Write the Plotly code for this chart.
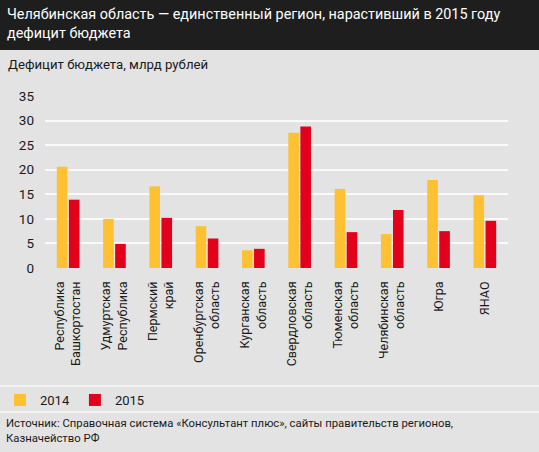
import plotly.graph_objects as go

categories = [
    "Республика<br>Башкортостан",
    "Удмуртская<br>Республика",
    "Пермский<br>край",
    "Оренбургская<br>область",
    "Курганская<br>область",
    "Свердловская<br>область",
    "Тюменская<br>область",
    "Челябинская<br>область",
    "Югра",
    "ЯНАО",
]
values_2014 = [20.6, 10.0, 16.6, 8.5, 3.6, 27.5, 16.1, 6.9, 17.9, 14.8]
values_2015 = [13.9, 4.9, 10.2, 6.0, 3.9, 28.8, 7.3, 11.8, 7.5, 9.6]
series_names = ["2014", "2015"]
y_ticks = [0, 5, 10, 15, 20, 25, 30, 35]

W, H = 539, 452
L, R = 45, 508      # plot area x in pixels
T, B = 96, 268      # plot area y in pixels

FONT = "Roboto, sans-serif"
ORANGE = "#FDC131"
RED = "#E2001A"
BG = "#E3E3E3"
TXT = "#1A1A1A"


def px(x):
    return (x - L) / (R - L)


def py(y):
    return (B - y) / (B - T)


fig = go.Figure()
fig.add_trace(go.Bar(x=categories, y=values_2014, name=series_names[0],
                     marker=dict(color=ORANGE, line=dict(width=0))))
fig.add_trace(go.Bar(x=categories, y=values_2015, name=series_names[1],
                     marker=dict(color=RED, line=dict(width=0))))

shapes = [
    dict(type="rect", xref="paper", yref="paper", x0=px(0), x1=px(W),
         y0=py(0), y1=py(50), fillcolor="#1E1E1E", line=dict(width=0), layer="below"),
    dict(type="line", xref="paper", yref="paper", x0=px(0), x1=px(W),
         y0=py(386), y1=py(386), line=dict(color="#F7F7F7", width=1.5)),
    dict(type="line", xref="paper", yref="paper", x0=px(0), x1=px(W),
         y0=py(412), y1=py(412), line=dict(color="#F7F7F7", width=1.5)),
]

annotations = [
    dict(text="Челябинская область — единственный регион, нарастивший в 2015 году<br>дефицит бюджета",
         xref="paper", yref="paper", x=px(5), y=py(4), xanchor="left", yanchor="top",
         showarrow=False, align="left", font=dict(family=FONT, size=14.4, color="white")),
    dict(text="Дефицит бюджета, млрд рублей",
         xref="paper", yref="paper", x=px(6), y=py(55), xanchor="left", yanchor="top",
         showarrow=False, align="left", font=dict(family=FONT, size=13.2, color=TXT)),
    dict(text="Источник: Справочная система «Консультант плюс», сайты правительств регионов,<br>Казначейство РФ",
         xref="paper", yref="paper", x=px(4), y=py(415), xanchor="left", yanchor="top",
         showarrow=False, align="left", font=dict(family=FONT, size=11.3, color=TXT)),
]

fig.update_layout(
    width=W, height=H,
    margin=dict(l=L, r=W - R, t=T, b=H - B, pad=0),
    paper_bgcolor=BG, plot_bgcolor=BG,
    barmode="group", bargap=0.48, bargroupgap=0.12,
    font=dict(family=FONT, size=13, color=TXT),
    showlegend=True,
    legend=dict(orientation="h", xref="container", yref="container",
                x=-0.028, y=1 - 400 / H, xanchor="left", yanchor="middle",
                bgcolor="rgba(0,0,0,0)", font=dict(family=FONT, size=13, color=TXT),
                itemwidth=30, tracegroupgap=0),
    shapes=shapes,
    annotations=annotations,
    xaxis=dict(tickangle=-90, showgrid=False, showline=False, ticks="",
               tickfont=dict(family=FONT, size=12.5, color=TXT), ticklabelstandoff=10),
    yaxis=dict(range=[0, 35], tickvals=y_ticks, showgrid=True, gridcolor="#FAFAFA",
               gridwidth=1.5, zeroline=False, showline=False, ticks="",
               tickfont=dict(family=FONT, size=13.5, color=TXT), ticklabelstandoff=10),
)

fig.write_html("out.html", config={"displayModeBar": False},
               post_script="document.body.style.margin='0';")
